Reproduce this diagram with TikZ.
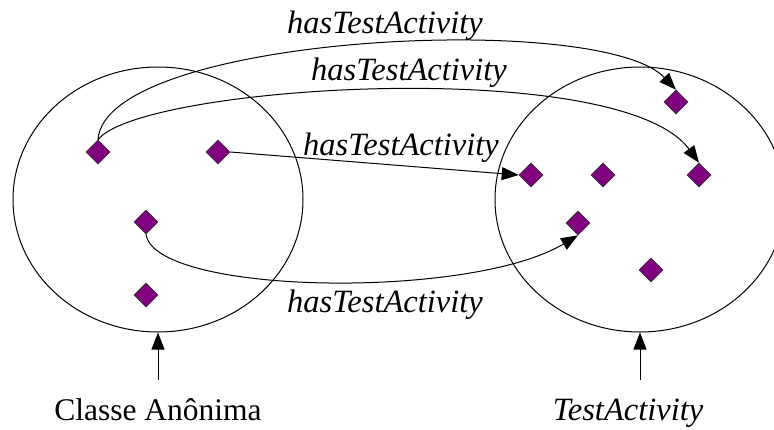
\documentclass[tikz,border=0pt]{standalone}
\usepackage{fontspec}
\setmainfont{Liberation Serif}
\usetikzlibrary{shapes.geometric,arrows.meta}
\begin{document}
\begin{tikzpicture}[x=1pt,y=-1pt,
  inst/.style={diamond,draw=black!80,line width=0.6pt,fill={rgb,255:red,128;green,0;blue,128},minimum size=24pt,inner sep=0pt},
  setshape/.style={ellipse,draw,line width=1pt,minimum width=290pt,minimum height=265pt,inner sep=0pt},
  conn/.style={line width=1pt,-{Triangle[length=17pt,width=13pt]}},
  lbl/.style={font=\fontsize{32.5}{38}\selectfont\itshape,anchor=base,inner sep=0pt},
  captext/.style={font=\fontsize{31.5}{37}\selectfont,anchor=base,inner sep=0pt}]
\useasboundingbox (0,0) rectangle (774,429);
\clip (0,0) rectangle (774,429);
\node[setshape] (left) at (158,199.5) {};
\node[setshape] (right) at (640,199.5) {};
% left diamonds
\node[inst] (a1) at (98,152) {};
\node[inst] (a2) at (218,152) {};
\node[inst] (a3) at (146,222) {};
\node[inst] (a4) at (146,295) {};
% right diamonds
\node[inst] (b1) at (676,102) {};
\node[inst] (b2) at (531,175) {};
\node[inst] (b3) at (603,175) {};
\node[inst] (b4) at (699,175) {};
\node[inst] (b5) at (578,223) {};
\node[inst] (b6) at (651,270) {};
% connectors
\draw[conn] (a1.north) .. controls (105,35) and (600,10) .. (b1.north);
\draw[conn] (a1.north) .. controls (140,85) and (620,55) .. (b4.north);
\draw[conn] (a2.east) -- (b2.west);
\draw[conn] (a3.south) .. controls (155,295) and (470,300) .. (b5.south);
% labels
\node[lbl] (l1) at (385,33) {hasTestActivity};
\node[lbl] (l2) at (409,80) {hasTestActivity};
\node[lbl] (l3) at (401,155) {hasTestActivity};
\node[lbl] (l4) at (385,312) {hasTestActivity};
\node[captext] (c1) at (158,420) {Classe Anônima};
\node[lbl] (c2) at (628,420) {TestActivity};
\coordinate (p1) at (158,380);
\coordinate (p2) at (640,380);
\draw[conn] (p1) -- (left.south);
\draw[conn] (p2) -- (right.south);
\end{tikzpicture}
\end{document}
